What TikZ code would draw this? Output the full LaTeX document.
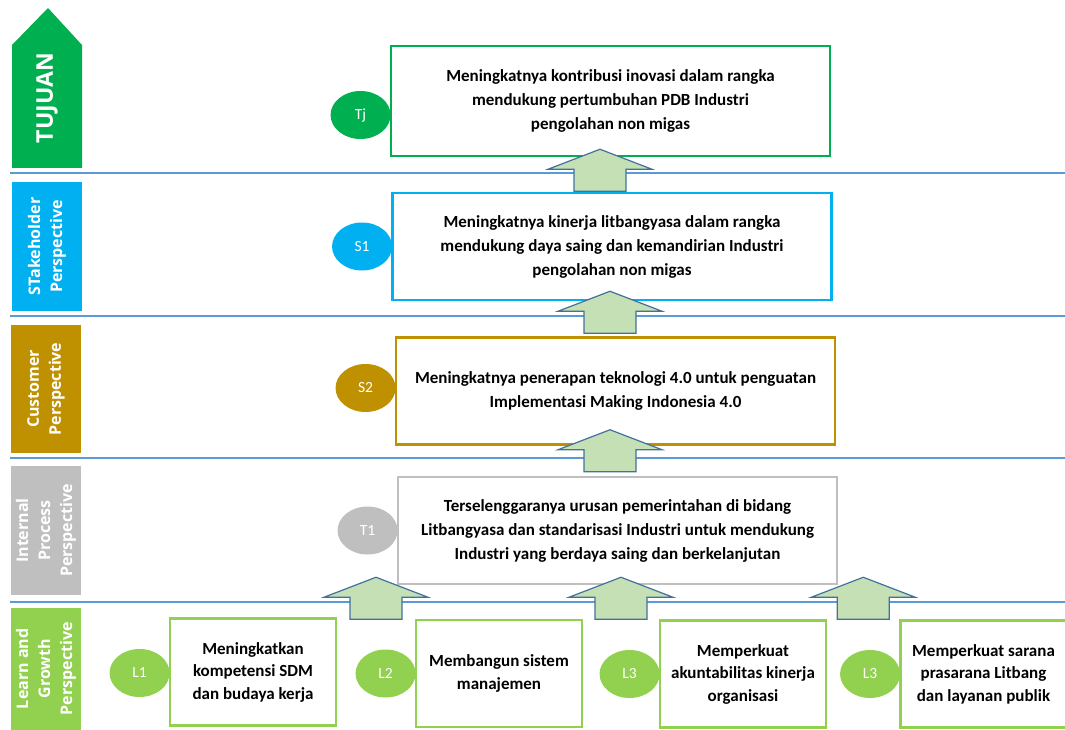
\documentclass[tikz,border=0pt]{standalone}
\usepackage{fontspec}
\setmainfont{Carlito}
\newfontfamily\sidefont{Open Sans}
\usetikzlibrary{positioning,calc,shapes.geometric}
\definecolor{goalgreen}{HTML}{00B050}
\definecolor{stakeblue}{HTML}{00B0F0}
\definecolor{custgold}{HTML}{BF9000}
\definecolor{procgray}{HTML}{BFBFBF}
\definecolor{learngreen}{HTML}{92D050}
\definecolor{seplink}{HTML}{5B9BD5}
\definecolor{arrowfill}{HTML}{C5E0B4}
\definecolor{arrowedge}{HTML}{41719C}
\tikzset{
  mainbox/.style={draw, line width=2.5pt, fill=white, minimum width=439pt, minimum height=107pt,
    inner sep=0pt, align=center, font=\bfseries\fontsize{17}{24}\selectfont},
  smallbox/.style={draw=learngreen, line width=2.5pt, fill=white, minimum width=166pt, minimum height=107pt,
    inner sep=0pt, align=center, font=\bfseries\fontsize{17}{22.5}\selectfont},
  badge/.style={ellipse, minimum width=60pt, minimum height=48pt, inner sep=0pt, text=white,
    font=\fontsize{15.5}{17}\selectfont},
  sidebox/.style={rotate=90, minimum height=70pt, inner sep=0pt, align=center, text=white,
    font=\sidefont\bfseries\fontsize{16}{22}\selectfont},
  sepline/.style={draw=seplink, line width=1.5pt},
  arrowbox/.style={draw=arrowedge, fill=arrowfill, line width=1.2pt, line join=miter},
  uparr/.pic={\draw[arrowbox] (0,0) -- (52,20) -- (26,20) -- (26,42) -- (-26,42) -- (-26,20) -- (-52,20) -- cycle;},
}
\begin{document}
\begin{tikzpicture}[x=1pt, y=-1pt]
  \useasboundingbox (0,0) rectangle (1065,730);

  % perspective bands
  \foreach \yy in {173,316,458,602}
    \draw[sepline] (10,\yy) -- (1065,\yy);

  % left column
  \fill[goalgreen] (12,168) -- (12,45) -- (48,8) -- (82,45) -- (82,168) -- cycle;
  \node[sidebox, font=\sidefont\bfseries\fontsize{23}{24}\selectfont] (goal) at (47,98) {TUJUAN};
  \node[sidebox, fill=stakeblue, minimum width=129pt] (stake) at (47,246.5) {STakeholder\\Perspective};
  \node[sidebox, fill=custgold, minimum width=128pt] (cust) at (46,389) {Customer\\Perspective};
  \node[sidebox, fill=procgray, minimum width=129pt] (proc) at (46,530.5) {Internal\\Process\\Perspective};
  \node[sidebox, fill=learngreen, minimum width=122pt, anchor=west] (learn) at (46,730) {Learn and\\Growth\\Perspective};

  % objectives
  \node[mainbox, draw=goalgreen, minimum height=110pt] (tj) at (610.5,101)
    {Meningkatnya kontribusi inovasi dalam rangka\\mendukung pertumbuhan PDB Industri\\pengolahan non migas};
  \node[mainbox, draw=stakeblue] (sone) at (612,246.5)
    {Meningkatnya kinerja litbangyasa dalam rangka\\mendukung daya saing dan kemandirian Industri\\pengolahan non migas};
  \node[mainbox, draw=custgold] (stwo) at (615.5,391)
    {Meningkatnya penerapan teknologi 4.0 untuk penguatan\\Implementasi Making Indonesia 4.0};
  \node[mainbox, draw=procgray] (tone) at (617.5,530.5)
    {Terselenggaranya urusan pemerintahan di bidang\\Litbangyasa dan standarisasi Industri untuk mendukung\\Industri yang berdaya saing dan berkelanjutan};

  \node[smallbox] (lone) at (253,672) {Meningkatkan\\kompetensi SDM\\dan budaya kerja};
  \node[smallbox] (ltwo) at (499,673.5) {Membangun sistem\\manajemen};
  \node[smallbox] (lthree) at (743,674) {Memperkuat\\akuntabilitas kinerja\\organisasi};
  \node[smallbox] (lfour) at (983.5,674) {Memperkuat sarana\\prasarana Litbang\\dan layanan publik};

  % badges
  \node[badge, fill=goalgreen, left=-1pt of tj.west, yshift=-14pt] (tjb) {Tj};
  \node[badge, fill=stakeblue, left=-1pt of sone] (soneb) {S1};
  \node[badge, fill=custgold, left=-1pt of stwo, yshift=3pt] (stwob) {S2};
  \node[badge, fill=procgray, left=-1pt of tone] (toneb) {T1};
  \node[badge, fill=learngreen, left=-1pt of lone, yshift=-1pt] (loneb) {L1};
  \node[badge, fill=learngreen, left=-1pt of ltwo] (ltwob) {L2};
  \node[badge, fill=learngreen, left=-1pt of lthree] (lthreeb) {L3};
  \node[badge, fill=learngreen, left=-1pt of lfour] (lfourb) {L3};

  % links upward
  \pic[xshift=-10.5pt, yshift=8pt] at (tj.south) {uparr};
  \pic[xshift=-2pt, yshift=10pt] at (sone.south) {uparr};
  \pic[xshift=-5.5pt, yshift=16pt] at (stwo.south) {uparr};
  \coordinate (m1) at ($(lone.east)!.5!(ltwo.west)$);
  \coordinate (m2) at ($(ltwo.east)!.5!(lthree.west)$);
  \coordinate (m3) at ($(lthree.east)!.5!(lfour.west)$);
  \foreach \mm in {m1,m2,m3}
    \pic[yshift=8pt] at (\mm |- tone.south) {uparr};
\end{tikzpicture}
\end{document}
